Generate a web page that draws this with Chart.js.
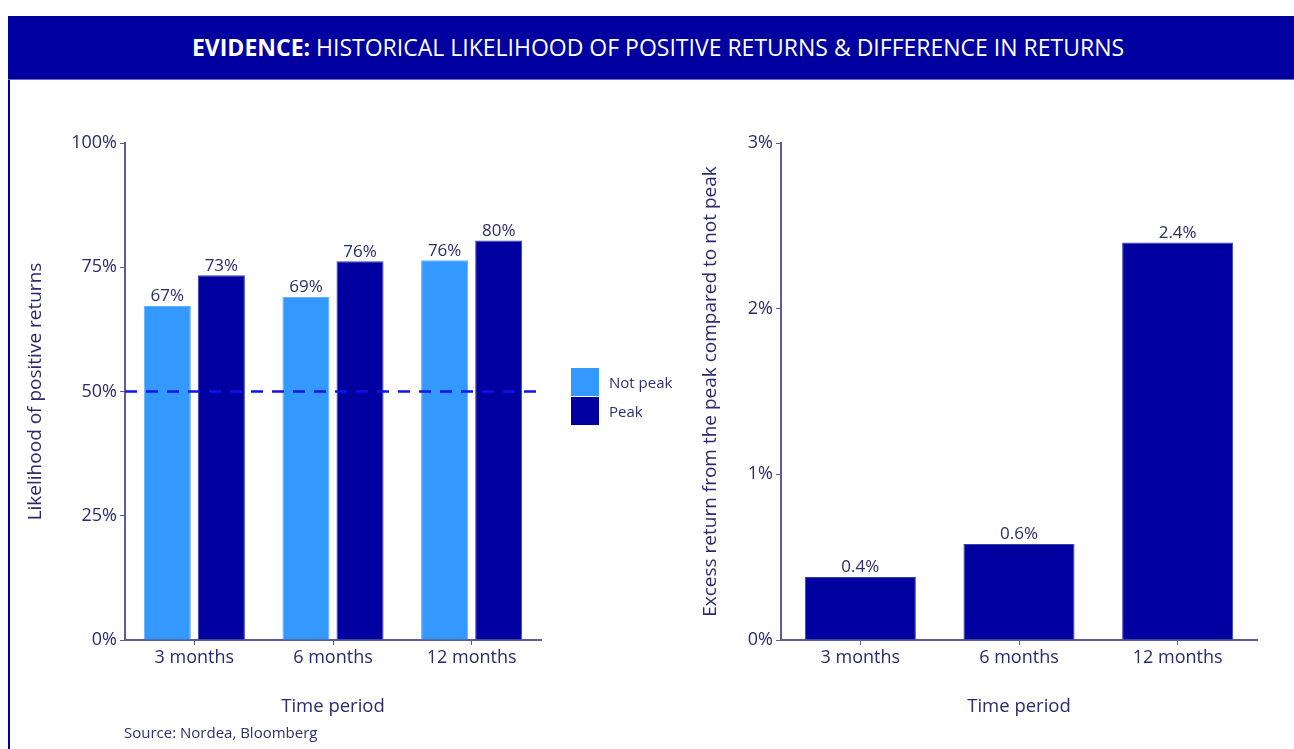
<!DOCTYPE html>
<html>
<head>
<meta charset="utf-8">
<script src="https://cdn.jsdelivr.net/npm/chart.js@4/dist/chart.umd.min.js"></script>
<style>
  html, body { margin: 0; padding: 0; background: #fff; }
  body { width: 1294px; height: 749px; position: relative; overflow: hidden; font-family: "Open Sans", sans-serif; }
  .header {
    position: absolute; left: 8px; top: 16px; width: 1286px; height: 63px;
    background: #0000a0; border-bottom: 1px solid #6b6bc4;
    color: #fff; font-size: 23px; line-height: 63px; text-align: center; text-indent: 14px;
  }
  .header b { font-weight: 700; }
  .frame { position: absolute; left: 8px; top: 80px; width: 2px; height: 669px; background: #0000a0; }
  .legend { position: absolute; left: 571px; top: 367px; font-size: 15px; color: #2e2e72; }
  .legend div { height: 29px; display: flex; align-items: center; }
  .legend span { display: inline-block; width: 28px; height: 28px; margin-right: 10px; }
  .source { position: absolute; left: 124px; top: 722px; font-size: 15px; color: #2e2e72; }
  #left { position: absolute; left: 0; top: 0; }
  #right { position: absolute; left: 560px; top: 0; }
</style>
</head>
<body>
<div class="header"><b>EVIDENCE:</b> HISTORICAL LIKELIHOOD OF POSITIVE RETURNS &amp; DIFFERENCE IN RETURNS</div>
<div class="frame"></div>
<canvas id="left" width="560" height="749"></canvas>
<canvas id="right" width="734" height="749"></canvas>
<div class="legend">
  <div><span style="background:#3399ff"></span>Not peak</div>
  <div><span style="background:#0000a0"></span>Peak</div>
</div>
<div class="source">Source: Nordea, Bloomberg</div>
<script>
// data
const periods = ["3 months", "6 months", "12 months"];
const notPeak = [67.2, 69.0, 76.4];
const peak = [73.4, 76.2, 80.4];
const excessReturn = [0.38, 0.58, 2.4];
const baseline = 50;

const textColor = "#2a2a6e";
const axisColor = "#5c5c99";
const lightBlue = "#3399ff";
const darkBlue = "#0000a0";

Chart.defaults.font.family = "'Open Sans', sans-serif";
Chart.defaults.color = textColor;
Chart.defaults.animation = false;

// value labels above each bar
function makeBarLabels(format) {
  return {
    id: "barLabels",
    afterDatasetsDraw(chart) {
      const ctx = chart.ctx;
      ctx.save();
      ctx.font = "17px 'Open Sans', sans-serif";
      ctx.fillStyle = textColor;
      ctx.textAlign = "center";
      ctx.textBaseline = "bottom";
      chart.data.datasets.forEach((ds, i) => {
        chart.getDatasetMeta(i).data.forEach((bar, j) => {
          ctx.fillText(format(ds.data[j]), bar.x, bar.y - 1);
        });
      });
      ctx.restore();
    }
  };
}

// dashed 50% reference line
const baselinePlugin = {
  id: "baseline",
  afterDatasetsDraw(chart) {
    const { ctx, chartArea } = chart;
    const y = chart.scales.y.getPixelForValue(baseline);
    ctx.save();
    ctx.strokeStyle = "#1010f0";
    ctx.lineWidth = 2.5;
    ctx.setLineDash([12, 9]);
    ctx.beginPath();
    ctx.moveTo(chartArea.left, y);
    ctx.lineTo(chartArea.right, y);
    ctx.stroke();
    ctx.restore();
  }
};

function axes(yWidth, yMax, yStep, yTitle, yTitlePad) {
  return {
    x: {
      afterFit: (s) => { s.height = 109; },
      grid: { display: true, offset: false, drawOnChartArea: false, drawTicks: true, tickLength: 5, color: axisColor },
      border: { display: true, color: axisColor, width: 2 },
      ticks: { font: { size: 18 }, color: textColor, padding: 2 },
      title: { display: true, text: "Time period", font: { size: 18.5 }, color: textColor, padding: { top: 0, bottom: 31 } }
    },
    y: {
      min: 0,
      max: yMax,
      afterFit: (s) => { s.width = yWidth; },
      grid: { display: true, drawOnChartArea: false, drawTicks: true, tickLength: 5, color: axisColor },
      border: { display: true, color: axisColor, width: 2 },
      ticks: { stepSize: yStep, font: { size: 18 }, color: textColor, padding: 3, callback: (v) => v + "%" },
      title: { display: true, text: yTitle, font: { size: 19 }, color: textColor, padding: { top: yTitlePad, bottom: 0 } }
    }
  };
}

new Chart(document.getElementById("left"), {
  type: "bar",
  data: {
    labels: periods,
    datasets: [
      { label: "Not peak", data: notPeak, backgroundColor: lightBlue, borderColor: "#62b0ff", borderWidth: 1 },
      { label: "Peak", data: peak, backgroundColor: darkBlue, borderColor: "#3a3ab0", borderWidth: 1 }
    ]
  },
  options: {
    responsive: false,
    categoryPercentage: 0.78,
    barPercentage: 0.87,
    layout: { padding: { left: 0, right: 19, top: 143, bottom: 0 } },
    plugins: { legend: { display: false }, tooltip: { enabled: false } },
    scales: axes(125, 100, 25, "Likelihood of positive returns", 24)
  },
  plugins: [baselinePlugin, makeBarLabels((v) => Math.round(v) + "%")]
});

new Chart(document.getElementById("right"), {
  type: "bar",
  data: {
    labels: periods,
    datasets: [
      { label: "Excess return", data: excessReturn, backgroundColor: darkBlue, borderColor: "#3a3ab0", borderWidth: 1 }
    ]
  },
  options: {
    responsive: false,
    categoryPercentage: 0.8,
    barPercentage: 0.875,
    layout: { padding: { left: 130, right: 37, top: 143, bottom: 0 } },
    plugins: { legend: { display: false }, tooltip: { enabled: false } },
    scales: axes(91, 3, 1, "Excess return from the peak compared to not peak", 9)
  },
  plugins: [makeBarLabels((v) => v.toFixed(1) + "%")]
});
</script>
</body>
</html>
